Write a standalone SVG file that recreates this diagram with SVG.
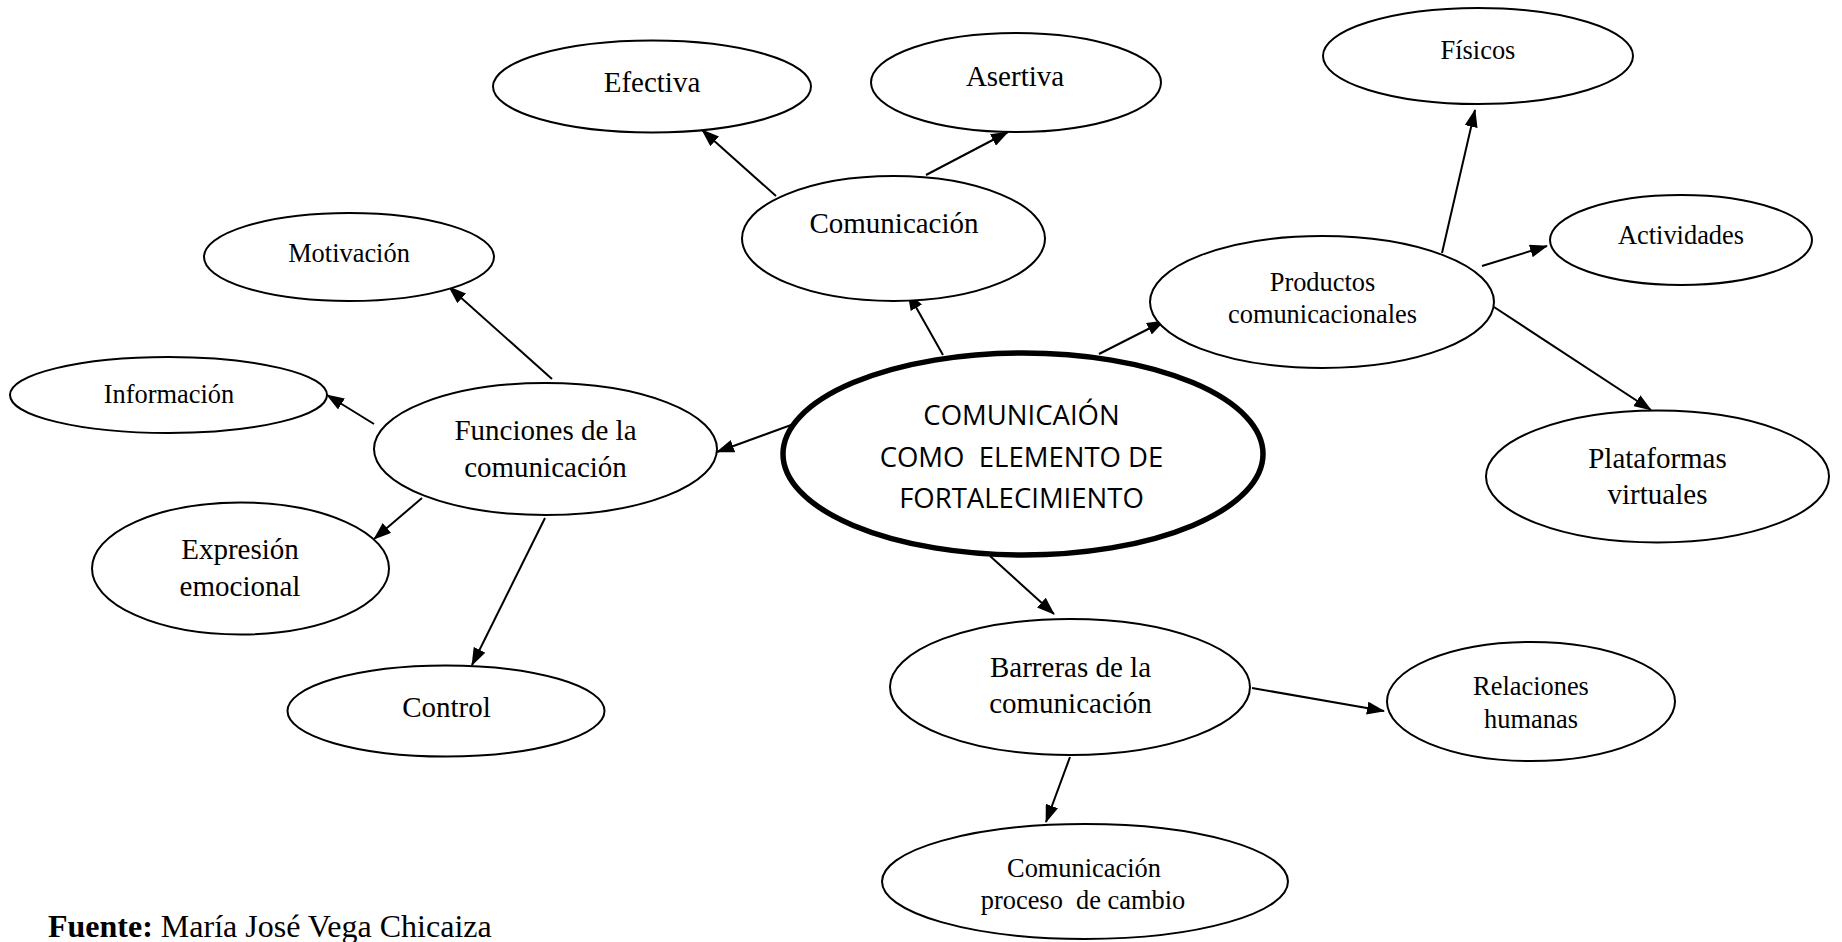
<svg xmlns="http://www.w3.org/2000/svg" width="1842" height="942" viewBox="0 0 1842 942">
<style>
.n{fill:#fff;stroke:#000;stroke-width:2}
.c{fill:#fff;stroke:#000;stroke-width:5.5}
.t{font-family:"Liberation Serif","Times New Roman",serif;fill:#000;text-anchor:middle}
.b{font-size:29px}
.s{font-size:26.4px}
.m{font-family:"Open Sans","Liberation Sans",sans-serif;font-size:27.5px;fill:#000;text-anchor:middle;white-space:pre}
.e{stroke:#000;stroke-width:2;fill:none;marker-end:url(#ah)}
</style>
<defs>
<marker id="ah" markerUnits="userSpaceOnUse" markerWidth="18" markerHeight="13" refX="17" refY="6.5" orient="auto">
<path d="M0,0 L18,6.5 L0,13 Z" fill="#000"/>
</marker>
</defs>
<rect width="1842" height="942" fill="#fff"/>
<g id="connectors">
<line class="e" x1="776" y1="196" x2="702" y2="130"/>
<line class="e" x1="926" y1="175" x2="1008" y2="132"/>
<line class="e" x1="943" y1="355" x2="908" y2="293"/>
<line class="e" x1="1099" y1="354" x2="1164" y2="321"/>
<line class="e" x1="1442" y1="253" x2="1475" y2="110"/>
<line class="e" x1="1482" y1="266" x2="1547" y2="246"/>
<line class="e" x1="1494" y1="307" x2="1651" y2="410"/>
<line class="e" x1="802" y1="421" x2="717" y2="452"/>
<line class="e" x1="552" y1="379" x2="449" y2="287"/>
<line class="e" x1="374" y1="424" x2="327" y2="395"/>
<line class="e" x1="422" y1="498" x2="374" y2="539"/>
<line class="e" x1="545" y1="518" x2="472" y2="665"/>
<line class="e" x1="990" y1="556" x2="1054" y2="614"/>
<line class="e" x1="1252" y1="688" x2="1384" y2="711"/>
<line class="e" x1="1070" y1="757" x2="1046" y2="822"/>
</g>
<g id="central">
<ellipse class="c" cx="1023" cy="454" rx="240" ry="101"/>
<text class="m" x="1021.5" y="425">COMUNICAIÓN</text>
<text class="m" x="1021.5" y="467">COMO  ELEMENTO DE</text>
<text class="m" x="1021.5" y="508">FORTALECIMIENTO</text>
</g>
<g id="efectiva">
<ellipse class="n" cx="652" cy="86.5" rx="159" ry="46"/>
<text class="t b" x="652" y="92">Efectiva</text>
</g>
<g id="asertiva">
<ellipse class="n" cx="1016" cy="82.5" rx="145" ry="49.5"/>
<text class="t b" x="1015" y="86">Asertiva</text>
</g>
<g id="comunicacion">
<ellipse class="n" cx="893.5" cy="238.5" rx="151.5" ry="62.5"/>
<text class="t b" x="894" y="233">Comunicación</text>
</g>
<g id="motivacion">
<ellipse class="n" cx="349" cy="257" rx="145" ry="44"/>
<text class="t s" x="349" y="262">Motivación</text>
</g>
<g id="informacion">
<ellipse class="n" cx="168.5" cy="395" rx="158.5" ry="38"/>
<text class="t s" x="169" y="403">Información</text>
</g>
<g id="funciones">
<ellipse class="n" cx="545.5" cy="449" rx="171.5" ry="66"/>
<text class="t b" x="545.5" y="440">Funciones de la</text>
<text class="t b" x="545.5" y="477">comunicación</text>
</g>
<g id="expresion">
<ellipse class="n" cx="240.5" cy="568.5" rx="148.5" ry="66"/>
<text class="t b" x="240" y="559">Expresión</text>
<text class="t b" x="240" y="596">emocional</text>
</g>
<g id="control">
<ellipse class="n" cx="446" cy="711" rx="158.5" ry="45.5"/>
<text class="t b" x="446.5" y="717">Control</text>
</g>
<g id="fisicos">
<ellipse class="n" cx="1478" cy="56" rx="155" ry="48"/>
<text class="t s" x="1478" y="59">Físicos</text>
</g>
<g id="actividades">
<ellipse class="n" cx="1681" cy="240" rx="131" ry="45"/>
<text class="t s" x="1681" y="244">Actividades</text>
</g>
<g id="productos">
<ellipse class="n" cx="1322" cy="302" rx="172" ry="66"/>
<text class="t s" x="1322.5" y="291">Productos</text>
<text class="t s" x="1322.5" y="323">comunicacionales</text>
</g>
<g id="plataformas">
<ellipse class="n" cx="1657.5" cy="476.5" rx="171.5" ry="66"/>
<text class="t b" x="1657.5" y="468">Plataformas</text>
<text class="t b" x="1657.5" y="504">virtuales</text>
</g>
<g id="barreras">
<ellipse class="n" cx="1070" cy="687" rx="180" ry="68"/>
<text class="t b" x="1070.5" y="677">Barreras de la</text>
<text class="t b" x="1070.5" y="713">comunicación</text>
</g>
<g id="relaciones">
<ellipse class="n" cx="1531" cy="701.5" rx="144" ry="59.5"/>
<text class="t s" x="1531" y="695">Relaciones</text>
<text class="t s" x="1531" y="728">humanas</text>
</g>
<g id="proceso">
<ellipse class="n" cx="1085" cy="881.5" rx="203" ry="57.5"/>
<text class="t s" x="1084" y="877">Comunicación</text>
<text class="t s" x="1083" y="909" style="white-space:pre">proceso  de cambio</text>
</g>
<g id="fuente">
<text x="48" y="937" font-family="'Liberation Serif','Times New Roman',serif" font-size="32" fill="#000"><tspan font-weight="bold">Fuente:</tspan> María José Vega Chicaiza</text>
</g>
</svg>
